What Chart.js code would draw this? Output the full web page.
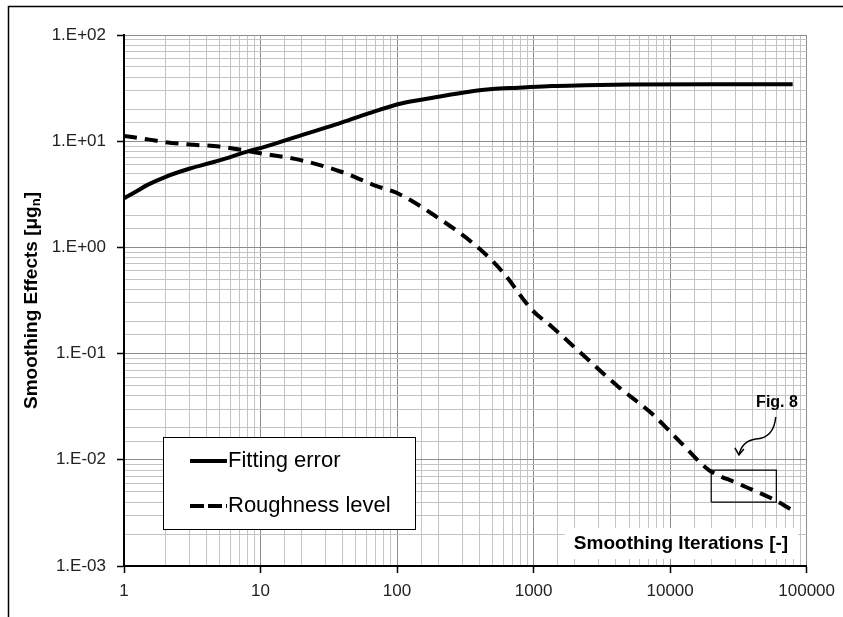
<!DOCTYPE html>
<html>
<head>
<meta charset="utf-8">
<script src="https://cdn.jsdelivr.net/npm/chart.js@4.4.1/dist/chart.umd.min.js"></script>
<style>
  body { margin: 0; background: #fff; }
  canvas { display: block; }
</style>
</head>
<body>
<canvas id="chart" width="843" height="617" style="width:843px;height:617px"></canvas>
<script>
// values
const fitX = [1, 1.2, 1.5, 2, 3, 5, 8.3, 10, 20, 30, 40, 62.5, 109, 191, 336, 496, 777, 1360, 2380, 5000, 20000, 79000];
const fitY = [2.9, 3.3, 3.9, 4.6, 5.5, 6.6, 8.1, 8.6, 11.4, 13.4, 15.1, 18.4, 22.8, 25.9, 29.2, 31.0, 31.9, 33.1, 33.6, 34.1, 34.4, 34.4];

const roughX = [1, 1.5, 2, 3, 5, 10, 20, 40, 70, 100, 186, 398, 605, 973, 1360, 2380, 4170, 7310, 12800, 19000, 31300, 58000, 77000];
const roughY = [11.2, 10.4, 9.8, 9.3, 8.9, 7.7, 6.6, 5.1, 3.8, 3.25, 2.02, 0.98, 0.57, 0.258, 0.179, 0.0933, 0.0488, 0.0274, 0.0133, 0.0081, 0.0060, 0.0042, 0.0034];

// zoom box marked "Fig. 8"
const boxX = [20000, 20000, 60000, 60000, 20000];
const boxY = [0.004, 0.008, 0.008, 0.004, 0.004];

// arrow from the "Fig. 8" label down to the box
const arrowX = [59400, 57400, 42400, 33600, 31900];
const arrowY = [0.0253, 0.0160, 0.0157, 0.0150, 0.0111];

const seriesNames = ['Fitting error', 'Roughness level'];
const xTitle = 'Smoothing Iterations [-]';
const font = "'Liberation Sans', Arial, sans-serif";

const pairs = (xs, ys) => xs.map((x, i) => ({ x: x, y: ys[i] }));

function isPow(v) {
  const e = Math.log10(v);
  return Math.abs(e - Math.round(e)) < 1e-6;
}
function fmtE(v) {
  const e = Math.round(Math.log10(v));
  return '1.E' + (e >= 0 ? '+' : '-') + String(Math.abs(e)).padStart(2, '0');
}
const gridColor = (c) => (c.tick && isPow(c.tick.value)) ? '#8c8c8c' : '#c4c4c4';
const tickColor = (c) => (c.tick && isPow(c.tick.value)) ? '#000' : 'rgba(0,0,0,0)';

const deco = {
  id: 'deco',
  beforeDraw(chart) {
    const ctx = chart.ctx;
    ctx.save();
    ctx.fillStyle = '#fff';
    ctx.fillRect(0, 0, chart.width, chart.height);
    ctx.strokeStyle = '#000';
    ctx.lineWidth = 1.5;
    ctx.beginPath();
    ctx.moveTo(8.5, chart.height + 5);
    ctx.lineTo(8.5, 6.5);
    ctx.lineTo(chart.width + 5, 6.5);
    ctx.stroke();
    ctx.restore();
  },
  afterDraw(chart) {
    const ctx = chart.ctx;
    const ca = chart.chartArea;
    const sx = chart.scales.x, sy = chart.scales.y;
    ctx.save();

    // legend box
    const lx = ca.left + 39, ly = ca.bottom - 129;
    ctx.fillStyle = '#fff';
    ctx.fillRect(lx, ly, 252, 92);
    ctx.strokeStyle = '#000';
    ctx.lineWidth = 1;
    ctx.strokeRect(lx + 0.5, ly + 0.5, 252, 92);
    ctx.lineWidth = 4;
    ctx.beginPath();
    ctx.moveTo(lx + 27, ly + 24);
    ctx.lineTo(lx + 64, ly + 24);
    ctx.stroke();
    ctx.setLineDash([14, 4]);
    ctx.beginPath();
    ctx.moveTo(lx + 27, ly + 69);
    ctx.lineTo(lx + 64, ly + 69);
    ctx.stroke();
    ctx.setLineDash([]);
    ctx.fillStyle = '#000';
    ctx.font = '22px ' + font;
    ctx.textBaseline = 'middle';
    ctx.textAlign = 'left';
    ctx.fillText(seriesNames[0], lx + 65, ly + 24);
    ctx.fillText(seriesNames[1], lx + 65, ly + 69);

    // x title sits inside the plot on a white patch
    ctx.fillStyle = '#fff';
    ctx.fillRect(565, ca.bottom - 38, 233, 31);
    ctx.fillStyle = '#000';
    ctx.font = 'bold 19px ' + font;
    ctx.textAlign = 'center';
    ctx.fillText(xTitle, 681, ca.bottom - 22);

    // y title with subscript n
    ctx.save();
    ctx.translate(30, (ca.top + ca.bottom) / 2);
    ctx.rotate(-Math.PI / 2);
    const a = 'Smoothing Effects [\u03bcg', b = 'n', c = ']';
    ctx.font = 'bold 19px ' + font;
    const wa = ctx.measureText(a).width, wc = ctx.measureText(c).width;
    ctx.font = 'bold 13px ' + font;
    const wb = ctx.measureText(b).width;
    let x0 = -(wa + wb + wc) / 2;
    ctx.textAlign = 'left';
    ctx.textBaseline = 'alphabetic';
    ctx.font = 'bold 19px ' + font;
    ctx.fillText(a, x0, 7);
    ctx.font = 'bold 13px ' + font;
    ctx.fillText(b, x0 + wa, 10);
    ctx.font = 'bold 19px ' + font;
    ctx.fillText(c, x0 + wa + wb, 7);
    ctx.restore();

    // Fig. 8 label and arrow
    ctx.fillStyle = '#000';
    ctx.font = 'bold 16px ' + font;
    ctx.textAlign = 'center';
    ctx.textBaseline = 'alphabetic';
    ctx.fillText('Fig. 8', 777, 407);
    const p = arrowX.map((v, i) => [sx.getPixelForValue(v), sy.getPixelForValue(arrowY[i])]);
    ctx.strokeStyle = '#000';
    ctx.lineWidth = 1.5;
    ctx.beginPath();
    ctx.moveTo(p[0][0], p[0][1]);
    ctx.quadraticCurveTo(p[1][0], p[1][1], p[2][0], p[2][1]);
    ctx.quadraticCurveTo(p[3][0], p[3][1], p[4][0], p[4][1]);
    ctx.stroke();
    const t = p[4];
    ctx.beginPath();
    ctx.moveTo(t[0] - 4, t[1] - 7);
    ctx.lineTo(t[0], t[1]);
    ctx.lineTo(t[0] + 5, t[1] - 6);
    ctx.stroke();

    ctx.restore();
  }
};

new Chart(document.getElementById('chart'), {
  type: 'line',
  data: {
    datasets: [
      {
        label: seriesNames[0],
        data: pairs(fitX, fitY),
        borderColor: '#000',
        borderWidth: 4,
        pointRadius: 0,
        cubicInterpolationMode: 'monotone'
      },
      {
        label: seriesNames[1],
        data: pairs(roughX, roughY),
        borderColor: '#000',
        borderWidth: 4,
        borderDash: [13, 8],
        pointRadius: 0,
        cubicInterpolationMode: 'monotone'
      },
      {
        label: 'box',
        data: pairs(boxX, boxY),
        borderColor: '#000',
        borderWidth: 1.2,
        pointRadius: 0,
        tension: 0
      }
    ]
  },
  options: {
    responsive: false,
    animation: false,
    devicePixelRatio: 1,
    layout: { padding: { left: 0, right: 36, top: 35, bottom: 0 } },
    plugins: {
      legend: { display: false },
      tooltip: { enabled: false }
    },
    scales: {
      x: {
        type: 'logarithmic',
        min: 1,
        max: 100000,
        afterFit(s) { s.height = 51; },
        border: { color: '#000', width: 2 },
        grid: { color: gridColor, lineWidth: 1, tickLength: 7, tickColor: tickColor, tickWidth: 1.5 },
        ticks: {
          autoSkip: false,
          maxRotation: 0,
          padding: 8,
          color: '#222',
          font: { family: font, size: 17 },
          callback: (v) => isPow(v) ? String(Math.round(v)) : ''
        }
      },
      y: {
        type: 'logarithmic',
        min: 0.001,
        max: 100,
        afterFit(s) { s.width = 124; },
        border: { color: '#000', width: 2 },
        grid: { color: gridColor, lineWidth: 1, tickLength: 7, tickColor: tickColor, tickWidth: 1.5 },
        ticks: {
          autoSkip: false,
          padding: 11,
          color: '#222',
          font: { family: font, size: 17 },
          callback: (v) => isPow(v) ? fmtE(v) : ''
        }
      }
    }
  },
  plugins: [deco]
});
</script>
</body>
</html>
